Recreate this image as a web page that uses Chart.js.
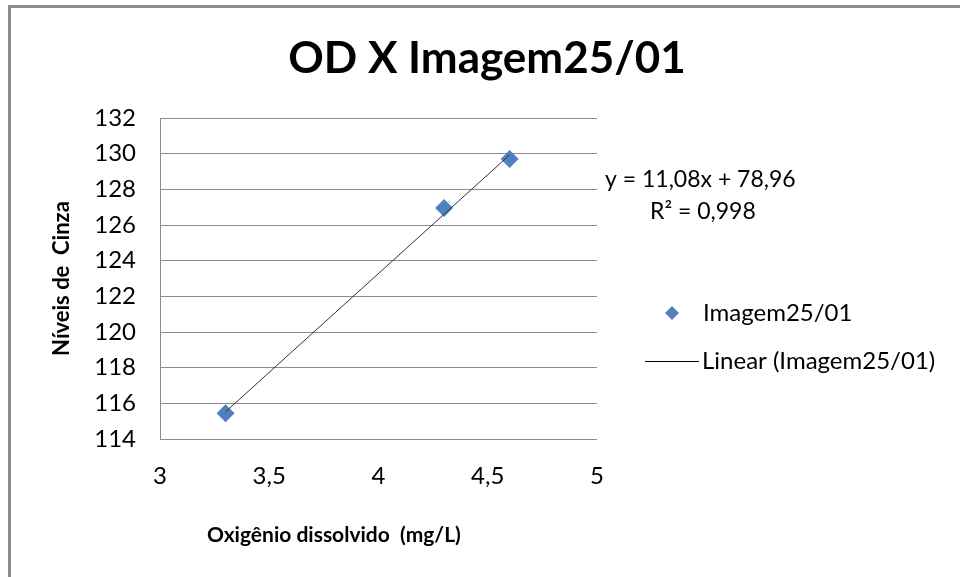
<!DOCTYPE html>
<html>
<head>
<meta charset="utf-8">
<script src="https://cdn.jsdelivr.net/npm/chart.js@4.4.0/dist/chart.umd.min.js"></script>
<style>
	html, body { margin: 0; padding: 0; background: #fff; }
	#wrap { position: relative; width: 960px; height: 577px; }
</style>
</head>
<body>
<div id="wrap"><canvas id="chart" width="960" height="577"></canvas></div>
<script>
const odValues = [3.3, 4.3, 4.6];
const grayLevels = [115.45, 126.95, 129.7];
const trendRange = [3.3, 4.6];
const trendCoef = [11.08, 78.96]; // slope, intercept
const rSquared = '0,998';
const seriesName = 'Imagem25/01';
const xTitle = 'Oxigênio dissolvido  (mg/L)';

const FONT = 'Lato, "Open Sans", sans-serif';
const blue = '#4F81BD';

const pointData = odValues.map((x, i) => ({ x: x, y: grayLevels[i] }));
const trendData = trendRange.map(x => ({ x: x, y: trendCoef[0] * x + trendCoef[1] }));

const fmt = v => String(v).replace('.', ',');

const decorations = {
	id: 'decorations',
	beforeDraw(chart) {
		const { ctx } = chart;
		ctx.save();
		ctx.fillStyle = '#fff';
		ctx.fillRect(0, 0, chart.width, chart.height);
		ctx.fillStyle = '#8c8c8c';
		ctx.fillRect(8, 5, 952, 3);
		ctx.fillRect(8, 5, 3, 572);
		ctx.restore();
	},
	afterDraw(chart) {
		const { ctx } = chart;
		ctx.save();
		ctx.fillStyle = '#000';
		ctx.textBaseline = 'alphabetic';

		ctx.font = 'bold 44px ' + FONT;
		ctx.textAlign = 'center';
		ctx.fillText('OD X ' + seriesName, 487, 73);

		// x axis title sits left of the plot centre in the original
		ctx.font = 'bold 21px ' + FONT;
		ctx.textAlign = 'left';
		ctx.fillText(xTitle, 207, 542);

		ctx.font = '23px ' + FONT;
		ctx.fillText('y = ' + fmt(trendCoef[0]) + 'x + ' + fmt(trendCoef[1]), 605, 187);
		ctx.fillText('R\u00B2 = ' + rSquared, 650, 219);

		// legend
		ctx.fillStyle = blue;
		ctx.beginPath();
		ctx.moveTo(672, 306);
		ctx.lineTo(679, 313);
		ctx.lineTo(672, 320);
		ctx.lineTo(665, 313);
		ctx.closePath();
		ctx.fill();
		ctx.fillStyle = '#000';
		ctx.font = '24px ' + FONT;
		ctx.fillText(seriesName, 703, 321);

		ctx.strokeStyle = '#000';
		ctx.lineWidth = 1;
		ctx.beginPath();
		ctx.moveTo(645, 361.5);
		ctx.lineTo(699, 361.5);
		ctx.stroke();
		ctx.fillText('Linear (' + seriesName + ')', 702, 369);
		ctx.restore();
	}
};

new Chart(document.getElementById('chart'), {
	type: 'scatter',
	data: {
		datasets: [
			{
				label: 'Linear (' + seriesName + ')',
				data: trendData,
				showLine: true,
				borderColor: '#333',
				borderWidth: 1,
				pointRadius: 0,
				order: 0
			},
			{
				label: seriesName,
				data: pointData,
				pointStyle: 'rectRot',
				pointRadius: 9,
				backgroundColor: blue,
				borderColor: blue,
				borderWidth: 0,
				order: 1
			}
		]
	},
	options: {
		responsive: false,
		animation: false,
		layout: { padding: { top: 118, right: 363, left: 0, bottom: 0 } },
		plugins: {
			legend: { display: false },
			title: { display: false },
			tooltip: { enabled: false }
		},
		scales: {
			x: {
				type: 'linear',
				min: 3,
				max: 5,
				ticks: {
					stepSize: 0.5,
					padding: 23,
					color: '#000',
					font: { family: FONT, size: 24 },
					callback: v => fmt(v)
				},
				grid: { display: false, drawTicks: false },
				border: { display: false },
				title: { display: false },
				afterFit: s => { s.height = 138; }
			},
			y: {
				min: 114,
				max: 132,
				ticks: {
					stepSize: 2,
					padding: 24,
					color: '#000',
					font: { family: FONT, size: 24 }
				},
				grid: { color: '#8c8c8c', lineWidth: 1, drawTicks: false },
				border: { display: true, color: '#8c8c8c', width: 1 },
				title: {
					display: true,
					text: 'Níveis de  Cinza',
					color: '#000',
					font: { family: FONT, size: 22, weight: 'bold' },
					padding: { top: 49, bottom: 0 }
				},
				afterFit: s => { s.width = 160; }
			}
		}
	},
	plugins: [decorations]
});
</script>
</body>
</html>
